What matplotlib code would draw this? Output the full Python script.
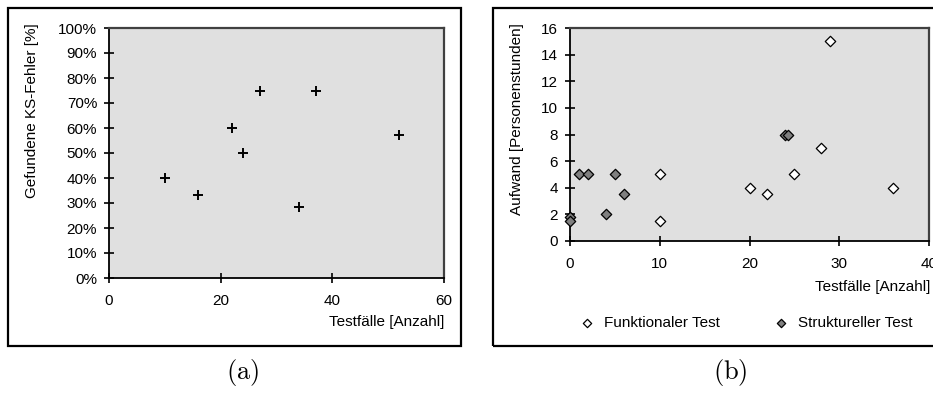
import matplotlib
matplotlib.use("Agg")
import matplotlib.pyplot as plt
from matplotlib.patches import Rectangle
from matplotlib.ticker import PercentFormatter

plt.rcParams["font.family"] = ["Liberation Sans", "DejaVu Sans"]
plt.rcParams["mathtext.fontset"] = "cm"

# (a) test cases vs. found KS errors
a_cases = [10, 16, 22, 24, 27, 34, 37, 52]
a_found = [40, 33.3, 60, 50, 75, 28.6, 75, 57.1]

# (b) test cases vs. effort
func_cases = [10, 10, 20, 22, 25, 28, 29, 36]
func_effort = [5, 1.5, 4, 3.5, 5, 7, 15, 4]
struct_cases = [0, 0, 1, 2, 4, 5, 6, 24, 24.3]
struct_effort = [1.8, 1.5, 5, 5, 2, 5, 3.5, 8, 8]

W, H = 933, 393
BG = "#e0e0e0"
FS = 11


def fx(px):
    return px / W


def fy(py):
    return 1 - py / H


def style_axes(ax):
    ax.set_facecolor(BG)
    for s in ("left", "bottom"):
        ax.spines[s].set_color("black")
        ax.spines[s].set_linewidth(1.3)
    for s in ("top", "right"):
        ax.spines[s].set_color("#404040")
        ax.spines[s].set_linewidth(1.6)
    ax.tick_params(direction="inout", length=7, width=1.2, labelsize=FS,
                   colors="black")
    ax.tick_params(axis="x", pad=8)
    ax.tick_params(axis="y", pad=5)


fig = plt.figure(figsize=(W / 100, H / 100), dpi=100)

# panel frames
for x0, x1 in ((8, 461), (493, 945)):
    fig.patches.append(Rectangle((fx(x0), fy(346)), fx(x1) - fx(x0),
                                 fy(8) - fy(346), fill=False, lw=1.6,
                                 edgecolor="black",
                                 transform=fig.transFigure))

# ---- (a)
ax1 = fig.add_axes([fx(109), fy(278), fx(444) - fx(109), fy(28) - fy(278)])
style_axes(ax1)
ax1.scatter(a_cases, a_found, marker="+", s=45, color="black",
            linewidths=1.4, zorder=3, clip_on=False)
ax1.set_xlim(0, 60)
ax1.set_ylim(0, 100)
ax1.set_xticks([0, 20, 40, 60])
ax1.set_yticks(range(0, 101, 10))
ax1.yaxis.set_major_formatter(PercentFormatter(decimals=0))
fig.text(fx(444), fy(322), "Testfälle [Anzahl]", ha="right", va="center",
         fontsize=FS)
fig.text(fx(32), fy(23), "Gefundene KS-Fehler [%]", rotation=90,
         ha="center", va="top", fontsize=FS)
fig.text(fx(243), fy(373), r"$\mathrm{(a)}$", ha="center", va="center",
         fontsize=19)

# ---- (b)
ax2 = fig.add_axes([fx(570), fy(241), fx(929) - fx(570), fy(28) - fy(241)])
style_axes(ax2)
ax2.scatter(func_cases, func_effort, marker="D", s=28, facecolor="white",
            edgecolor="black", linewidths=0.9, zorder=3, clip_on=False,
            label="Funktionaler Test")
ax2.scatter(struct_cases, struct_effort, marker="D", s=28,
            facecolor="#808080", edgecolor="black", linewidths=0.9,
            zorder=3, clip_on=False, label="Struktureller Test")
ax2.set_xlim(0, 40)
ax2.set_ylim(0, 16)
ax2.set_xticks([0, 10, 20, 30, 40])
ax2.set_yticks(range(0, 17, 2))
fig.text(fx(930), fy(287), "Testfälle [Anzahl]", ha="right", va="center",
         fontsize=FS)
fig.text(fx(517), fy(23), "Aufwand [Personenstunden]", rotation=90,
         ha="center", va="top", fontsize=FS)
ax2.legend(loc="center", bbox_to_anchor=(fx(742), fy(323)),
           bbox_transform=fig.transFigure, ncol=2, frameon=False,
           fontsize=FS, handletextpad=0.1, columnspacing=3.0,
           markerscale=0.8, borderpad=0)
fig.text(fx(730), fy(373), r"$\mathrm{(b)}$", ha="center", va="center",
         fontsize=19)

fig.savefig("out.png", dpi=100)
